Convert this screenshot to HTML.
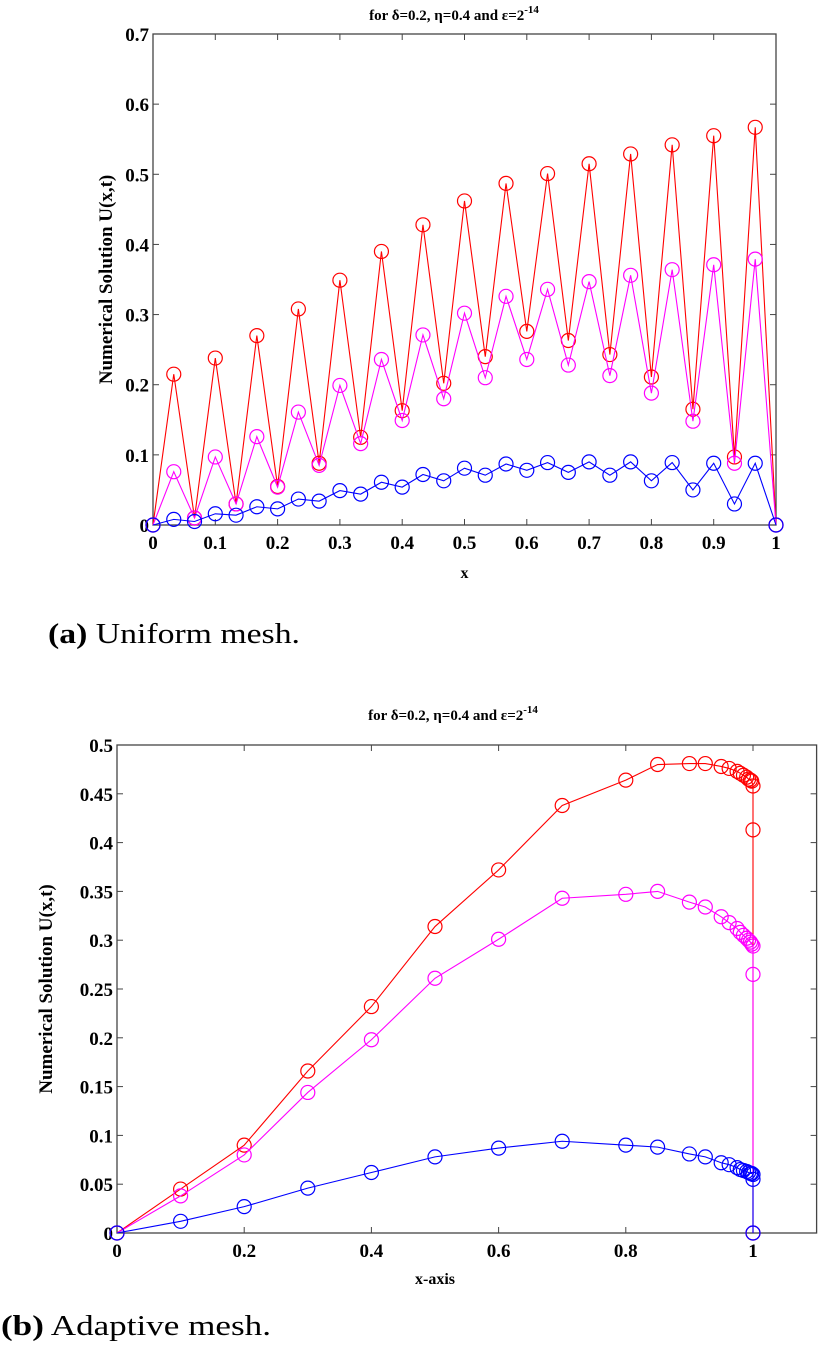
<!DOCTYPE html>
<html><head><meta charset="utf-8">
<style>
body{margin:0;background:#fff;width:818px;height:1354px;overflow:hidden}
svg{position:absolute;left:0;top:0}
.t{font-family:"Liberation Serif",serif;font-weight:bold;font-size:19px;fill:#000}
.cap{font-family:"Liberation Serif","DejaVu Serif",serif;font-size:28px;fill:#000}
</style></head><body>
<svg id="s" width="818" height="1354"></svg>
<script>
const topX = Array.from({length:31},(_,i)=>i/30);
const topRed=[0,.215,.01,.238,.03,.27,.055,.308,.088,.349,.125,.39,.163,.428,.202,.462,.24,.487,.276,.501,.263,.515,.243,.529,.211,.542,.165,.555,.097,.567,0];
const topMag=[0,.076,.01,.097,.03,.126,.054,.161,.085,.199,.116,.236,.149,.271,.18,.302,.21,.326,.236,.336,.228,.347,.213,.356,.188,.364,.148,.371,.088,.379,0];
const topBlue=[0,.008,.005,.016,.014,.026,.023,.037,.034,.049,.044,.061,.054,.072,.063,.081,.071,.087,.078,.089,.075,.090,.071,.090,.063,.089,.050,.088,.030,.088,0];
const topXTicks=[0,.1,.2,.3,.4,.5,.6,.7,.8,.9,1];
const topYTicks=[0,.1,.2,.3,.4,.5,.6,.7];
const botX=[0,.1,.2,.3,.4,.5,.6,.7,.8,.85,.9,.925,.95,.9625,.975,.98,.985,.99,.993,.996,.998,1,1,1];
const botRed=[0,.045,.09,.166,.232,.314,.372,.438,.464,.480,.481,.481,.478,.476,.473,.471,.469,.467,.465,.464,.463,.458,.413,0];
const botMag=[0,.038,.08,.144,.198,.261,.301,.343,.347,.350,.339,.334,.324,.318,.312,.308,.305,.302,.300,.298,.296,.294,.265,0];
const botBlue=[0,.012,.027,.046,.062,.078,.087,.094,.090,.088,.081,.078,.072,.070,.067,.065,.064,.063,.062,.061,.061,.060,.055,0];
const botXTicks=[0,.2,.4,.6,.8,1];
const botYTicks=[0,.05,.1,.15,.2,.25,.3,.35,.4,.45,.5];

const NS="http://www.w3.org/2000/svg", svg=document.getElementById('s');
function el(tag,attrs,parent){const e=document.createElementNS(NS,tag);for(const k in attrs)e.setAttribute(k,attrs[k]);(parent||svg).appendChild(e);return e;}
function txt(x,y,s,anchor,cls,parent){const e=el('text',{x:x,y:y,'text-anchor':anchor,class:cls},parent);e.textContent=s;return e;}

function chart(cfg){
  const g=el('g',{});
  
  
  const X=v=>cfg.x0+v*(cfg.x1-cfg.x0);
  const Y=v=>cfg.y0-(v-cfg.ymin)/(cfg.ymax-cfg.ymin)*(cfg.y0-cfg.y1);
  const R=X(cfg.xmax);
  const frame=el('rect',{x:cfg.x0,y:cfg.y1,width:R-cfg.x0,height:cfg.y0-cfg.y1,fill:'none',stroke:'#444','stroke-width':1.3},g);
  
  
  cfg.xt.forEach(v=>{const x=X(v);
    el('line',{x1:x,x2:x,y1:cfg.y0,y2:cfg.y0-6,stroke:'#444'},g);
    el('line',{x1:x,x2:x,y1:cfg.y1,y2:cfg.y1+6,stroke:'#444'},g);
    const t=txt(x,cfg.y0+24,String(v),'middle','t',g);
    
    });
  cfg.yt.forEach(v=>{const y=Y(v);
    el('line',{x1:cfg.x0,x2:cfg.x0+6,y1:y,y2:y,stroke:'#444'},g);
    el('line',{x1:R,x2:R-6,y1:y,y2:y,stroke:'#444'},g);
    const t=txt(cfg.x0-4,y+7,String(v),'end','t',g);
    
    });
  cfg.series.forEach(s=>{
    const pl=el('polyline',{points:s.ys.map((v,i)=>X(s.xs[i])+','+Y(v)).join(' '),fill:'none',stroke:s.c,'stroke-width':1.1},g);
    
    
    s.ys.forEach((v,i)=>{const c=el('circle',{cx:X(s.xs[i]),cy:Y(v),r:7,fill:'none',stroke:s.c,'stroke-width':1.2},g);
      
      });
  });
  const ti=el('text',{x:cfg.tx,y:cfg.ty,'text-anchor':'middle',class:'t',style:'font-size:15px'},g);
  
  
  ti.innerHTML='for δ=0.2, η=0.4 and ε=2<tspan dy="-7" style="font-size:11px">-14</tspan>';
  const xl=txt((cfg.x0+cfg.x1)/2,cfg.xly,cfg.xlab,'middle','t',g);
  xl.setAttribute('style','font-size:16px');
  
  
  const yl=el('text',{x:0,y:0,'text-anchor':'middle',class:'t',style:'font-size:19px',transform:`translate(${cfg.ylx},${(cfg.y0+cfg.y1)/2}) rotate(-90)`},g);
  yl.textContent='Numerical Solution U(x,t)';
  
  
}
chart({name:'uniform-mesh-chart',x0:153,x1:776,xmax:1,y0:525,y1:34,ymin:0,ymax:0.7,xt:topXTicks,yt:topYTicks,tx:454,ty:20,xlab:'x',xly:578,ylx:112,
  series:[{n:'red-series',c:'#f00',xs:topX,ys:topRed},{n:'magenta-series',c:'#f0f',xs:topX,ys:topMag},{n:'blue-series',c:'#00f',xs:topX,ys:topBlue}]});
chart({name:'adaptive-mesh-chart',x0:117,x1:753,xmax:1.1,y0:1233,y1:745,ymin:0,ymax:0.5,xt:botXTicks,yt:botYTicks,tx:453,ty:720,xlab:'x-axis',xly:1284,ylx:52,
  series:[{n:'red-series',c:'#f00',xs:botX,ys:botRed},{n:'magenta-series',c:'#f0f',xs:botX,ys:botMag},{n:'blue-series',c:'#00f',xs:botX,ys:botBlue}]});
</script>
<svg width="818" height="1354" style="pointer-events:none">
<text class="cap" x="48" y="643" textLength="252" lengthAdjust="spacingAndGlyphs"><tspan font-weight="bold">(a)</tspan> Uniform mesh.</text>
<text class="cap" x="1" y="1335" textLength="270" lengthAdjust="spacingAndGlyphs"><tspan font-weight="bold">(b)</tspan> Adaptive mesh.</text>
</svg>
</body></html>
